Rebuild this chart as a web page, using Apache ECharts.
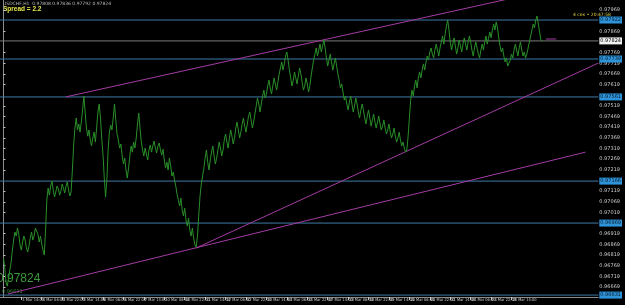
<!DOCTYPE html>
<html><head><meta charset="utf-8">
<script src="https://cdn.jsdelivr.net/npm/echarts@6/dist/echarts.min.js"></script>
<style>html,body{margin:0;padding:0;background:#000;overflow:hidden}#c{width:625px;height:305px}</style>
</head><body><div id="c"></div>
<script>
// ---- data ----
const chartTitle = 'USDCHF,H1  0.97808 0.97836 0.97792 0.97824';
const spreadText = 'Spread = 2.2';
const cornerText = '4 сек • 20:47:58';
const bidText = '0.97824';
const lowText = '0.96631';

// H1 closes, first bar 3 Mar 2014 00:00
const closes = [
0.96805,0.96758,0.96692,0.96673,0.96711,0.96748,0.96786,0.96842,0.96889,0.96927,
0.96908,0.96946,0.96917,0.96866,0.96842,0.96880,0.96908,0.96889,0.96852,0.96833,
0.96861,0.96899,0.96927,0.96889,0.96908,0.96946,0.96955,0.96917,0.96880,0.96908,
0.96870,0.96842,0.96819,0.96936,0.97077,0.97133,0.97100,0.97143,0.97166,0.97124,
0.97091,0.97115,0.97143,0.97129,0.97100,0.97119,0.97152,0.97133,0.97110,0.97143,
0.97162,0.97124,0.97096,0.97115,0.97218,0.97335,0.97415,0.97462,0.97406,0.97434,
0.97396,0.97443,0.97500,0.97565,0.97490,0.97415,0.97377,0.97406,0.97359,0.97331,
0.97368,0.97396,0.97349,0.97415,0.97490,0.97528,0.97462,0.97368,0.97288,0.97180,
0.97091,0.97171,0.97312,0.97396,0.97429,0.97406,0.97462,0.97528,0.97453,0.97387,
0.97359,0.97321,0.97340,0.97284,0.97246,0.97274,0.97218,0.97180,0.97227,0.97284,
0.97331,0.97302,0.97349,0.97321,0.97368,0.97434,0.97485,0.97415,0.97349,0.97312,
0.97284,0.97321,0.97293,0.97265,0.97312,0.97335,0.97302,0.97331,0.97354,0.97321,
0.97298,0.97331,0.97345,0.97312,0.97288,0.97316,0.97265,0.97227,0.97255,0.97218,
0.97274,0.97237,0.97190,0.97208,0.97171,0.97143,0.97105,0.97077,0.97049,0.97086,
0.97030,0.97002,0.97039,0.96983,0.96955,0.96992,0.96936,0.96908,0.96946,0.96899,
0.96866,0.96856,0.96908,0.97007,0.97096,0.97152,0.97190,0.97227,0.97274,0.97312,
0.97255,0.97218,0.97265,0.97302,0.97331,0.97284,0.97246,0.97274,0.97312,0.97349,
0.97321,0.97284,0.97312,0.97359,0.97387,0.97349,0.97321,0.97368,0.97406,0.97377,
0.97340,0.97368,0.97415,0.97443,0.97406,0.97368,0.97396,0.97434,0.97462,0.97424,
0.97396,0.97434,0.97471,0.97490,0.97453,0.97415,0.97443,0.97481,0.97518,0.97556,
0.97528,0.97490,0.97528,0.97565,0.97593,0.97556,0.97575,0.97612,0.97640,0.97603,
0.97575,0.97612,0.97650,0.97622,0.97593,0.97631,0.97669,0.97697,0.97725,0.97687,
0.97716,0.97753,0.97772,0.97734,0.97687,0.97650,0.97612,0.97640,0.97678,0.97650,
0.97622,0.97659,0.97697,0.97669,0.97631,0.97593,0.97612,0.97650,0.97622,0.97584,
0.97612,0.97659,0.97697,0.97734,0.97762,0.97791,0.97753,0.97781,0.97809,0.97772,
0.97800,0.97828,0.97791,0.97744,0.97706,0.97734,0.97762,0.97725,0.97687,0.97716,
0.97744,0.97706,0.97669,0.97640,0.97603,0.97622,0.97584,0.97546,0.97565,0.97528,
0.97500,0.97537,0.97565,0.97528,0.97490,0.97518,0.97556,0.97528,0.97490,0.97462,
0.97500,0.97528,0.97500,0.97462,0.97434,0.97471,0.97500,0.97462,0.97424,0.97453,
0.97481,0.97443,0.97415,0.97443,0.97471,0.97434,0.97406,0.97424,0.97453,0.97415,
0.97387,0.97406,0.97434,0.97396,0.97368,0.97387,0.97415,0.97377,0.97349,0.97368,
0.97396,0.97359,0.97331,0.97349,0.97321,0.97302,0.97312,0.97377,0.97462,0.97546,
0.97593,0.97565,0.97612,0.97640,0.97603,0.97650,0.97678,0.97650,0.97687,0.97716,
0.97687,0.97725,0.97753,0.97734,0.97772,0.97791,0.97762,0.97744,0.97781,0.97809,
0.97781,0.97753,0.97791,0.97819,0.97847,0.97809,0.97856,0.97894,0.97922,0.97875,
0.97819,0.97781,0.97809,0.97838,0.97800,0.97762,0.97791,0.97828,0.97800,0.97772,
0.97809,0.97838,0.97809,0.97781,0.97819,0.97847,0.97819,0.97781,0.97753,0.97791,
0.97819,0.97791,0.97762,0.97744,0.97781,0.97809,0.97781,0.97819,0.97847,0.97809,
0.97838,0.97866,0.97838,0.97875,0.97903,0.97875,0.97913,0.97885,0.97838,0.97800,
0.97772,0.97791,0.97753,0.97725,0.97744,0.97706,0.97697,0.97734,0.97762,0.97744,
0.97781,0.97809,0.97781,0.97753,0.97791,0.97819,0.97781,0.97753,0.97772,0.97744,
0.97762,0.97791,0.97819,0.97847,0.97875,0.97903,0.97885,0.97922,0.97941,0.97903,
0.97866,0.97828,0.97824
];

// horizontal levels (blue lines) and current price
const hLevels = [0.97922, 0.97739, 0.97561, 0.97166, 0.96969, 0.96631];
const currentPrice = 0.97824;
const askMark = [[425, 0.97833], [433, 0.97833]];

// trend lines [barIndex, price]
const trendLines = [
  [[48.7, 0.97561], [400, 0.98027]],
  [[151, 0.96852], [466, 0.97720]],
  [[3.5, 0.96636], [456, 0.97302]]
];

// price scale tick labels
const priceTicks = [0.96669,0.96719,0.96769,0.96819,0.96869,0.96919,0.97019,0.97069,0.97119,
  0.97219,0.97269,0.97319,0.97369,0.97419,0.97469,0.97519,0.97619,0.97669,0.97719,0.97769,
  0.97869,0.97969];
const priceMin = 0.96622, priceMax = 0.98016;

// time scale labels (every 16 H1 bars)
const timeLabels = ['3 Mar 2014','3 Mar 14:00','4 Mar 06:00','4 Mar 22:00','5 Mar 14:00',
  '6 Mar 06:00','6 Mar 22:00','7 Mar 14:00','10 Mar 06:00','10 Mar 22:00','11 Mar 14:00',
  '12 Mar 06:00','12 Mar 22:00','13 Mar 14:00','14 Mar 06:00','14 Mar 22:00','17 Mar 14:00',
  '18 Mar 06:00','18 Mar 22:00','19 Mar 14:00','20 Mar 06:00','20 Mar 22:00','21 Mar 14:00',
  '24 Mar 06:00','24 Mar 22:00','25 Mar 14:00','26 Mar 06:00'];
const xMin = -2.7, xMax = 466;

// ---- build bar times (Mon 00:00 - Fri 23:00 sessions) ----
const MON = ['Jan','Feb','Mar','Apr','May','Jun','Jul','Aug','Sep','Oct','Nov','Dec'];
function pad(n){return (n<10?'0':'')+n;}
const barNames = [];
{
  let t = Date.UTC(2014,2,3,0,0);
  while (barNames.length <= xMax) {
    const d = new Date(t);
    const wd = d.getUTCDay();
    if (wd !== 0 && wd !== 6) {
      barNames.push(d.getUTCDate()+' '+MON[d.getUTCMonth()]+' '+pad(d.getUTCHours())+':00');
    }
    t += 3600000;
  }
}
const labelIdx = timeLabels.map((s,k)=> k===0 ? 0 : barNames.indexOf(s));
const labelMap = {};
labelIdx.forEach((ix,k)=>{labelMap[ix]=timeLabels[k];});

const near = (a,b)=>Math.abs(a-b)<1e-7;
const allPriceLabels = priceTicks.concat(hLevels, [currentPrice]);

const chart = echarts.init(document.getElementById('c'), null, {renderer:'canvas'});
const purple = '#a43ca4';
const series = [];
hLevels.forEach(v=>series.push({
  type:'line', data:[[xMin,v],[xMax,v]], showSymbol:false, symbol:'none', silent:true, z:1,
  lineStyle:{color:'#3e7aa6', width:1}
}));
series.push({
  type:'line', data:[[xMin,currentPrice],[xMax,currentPrice]], showSymbol:false, symbol:'none', silent:true, z:1,
  lineStyle:{color:'#7a7a7a', width:1}
});
series.push({
  type:'line', data: closes.map((v,i)=>[i,v]), showSymbol:false, symbol:'none',
  lineStyle:{color:'#2a8f2a', width:1}, clip:true, z:3, silent:true
});
trendLines.forEach(tl=>series.push({
  type:'line', data:tl, showSymbol:false, symbol:'none', clip:true, silent:true, z:2,
  lineStyle:{color:purple, width:1}
}));
series.push({type:'line', data:askMark, showSymbol:false, symbol:'none', silent:true,
  lineStyle:{color:purple, width:1}});

chart.setOption({
  backgroundColor:'#000',
  animation:false,
  grid:{left:0, right:14, top:0, bottom:8, containLabel:false},
  xAxis:{
    type:'value', min:xMin, max:xMax,
    splitLine:{show:false},
    axisLine:{show:true, onZero:false, lineStyle:{color:'#8c8c8c'}},
    axisTick:{show:true, customValues:labelIdx, length:3, lineStyle:{color:'#c8c8c8'}},
    axisLabel:{customValues:labelIdx, formatter:v=>labelMap[Math.round(v)]||'', hideOverlap:false,
      color:'#d0d0d0', fontSize:4, fontFamily:'DejaVu Sans Condensed, DejaVu Sans', align:'left', margin:1, padding:[0,0,0,1]}
  },
  yAxis:{
    type:'value', position:'right', min:priceMin, max:priceMax, scale:true,
    splitLine:{show:false},
    axisLine:{show:true, lineStyle:{color:'#8c8c8c'}},
    axisTick:{show:true, customValues:priceTicks, length:2, lineStyle:{color:'#c8c8c8'}},
    axisLabel:{
      customValues:allPriceLabels, margin:1, fontSize:5, fontFamily:'DejaVu Sans',
      formatter:function(v){
        const s = v.toFixed(5);
        if (near(v,currentPrice)) return '{cur|'+s+'}';
        for (const h of hLevels) if (near(v,h)) return '{hl|'+s+'}';
        return '{n|'+s+'}';
      },
      rich:{
        n:{color:'#cfcfcf', fontSize:5, fontFamily:'DejaVu Sans'},
        hl:{color:'#0a1a2a', backgroundColor:'#2e93d8', fontSize:5, padding:[1,1,1,1], fontFamily:'DejaVu Sans'},
        cur:{color:'#000', backgroundColor:'#f0f0f0', fontSize:5, padding:[1,1,1,1], fontFamily:'DejaVu Sans'}
      }
    }
  },
  graphic:[
    {type:'text', left:3, top:1, style:{text:chartTitle, fill:'#bdbdbd', fontSize:4.5, fontFamily:'DejaVu Sans'}},
    {type:'text', left:3, top:6, style:{text:spreadText, fill:'#e6e64a', fontSize:6.5, fontWeight:'bold', fontFamily:'Liberation Sans'}},
    {type:'text', left:573, top:12, style:{text:cornerText, fill:'#e0d040', fontSize:4.5, fontFamily:'DejaVu Sans'}},
    {type:'text', left:-3, top:273, style:{text:bidText, fill:'#3c9a3c', fontSize:12, fontFamily:'Liberation Sans'}},
    {type:'text', left:2, top:289, style:{text:lowText, fill:'#2e8a2e', fontSize:5, fontFamily:'DejaVu Sans'}}
  ],
  series: series
});
</script></body></html>
